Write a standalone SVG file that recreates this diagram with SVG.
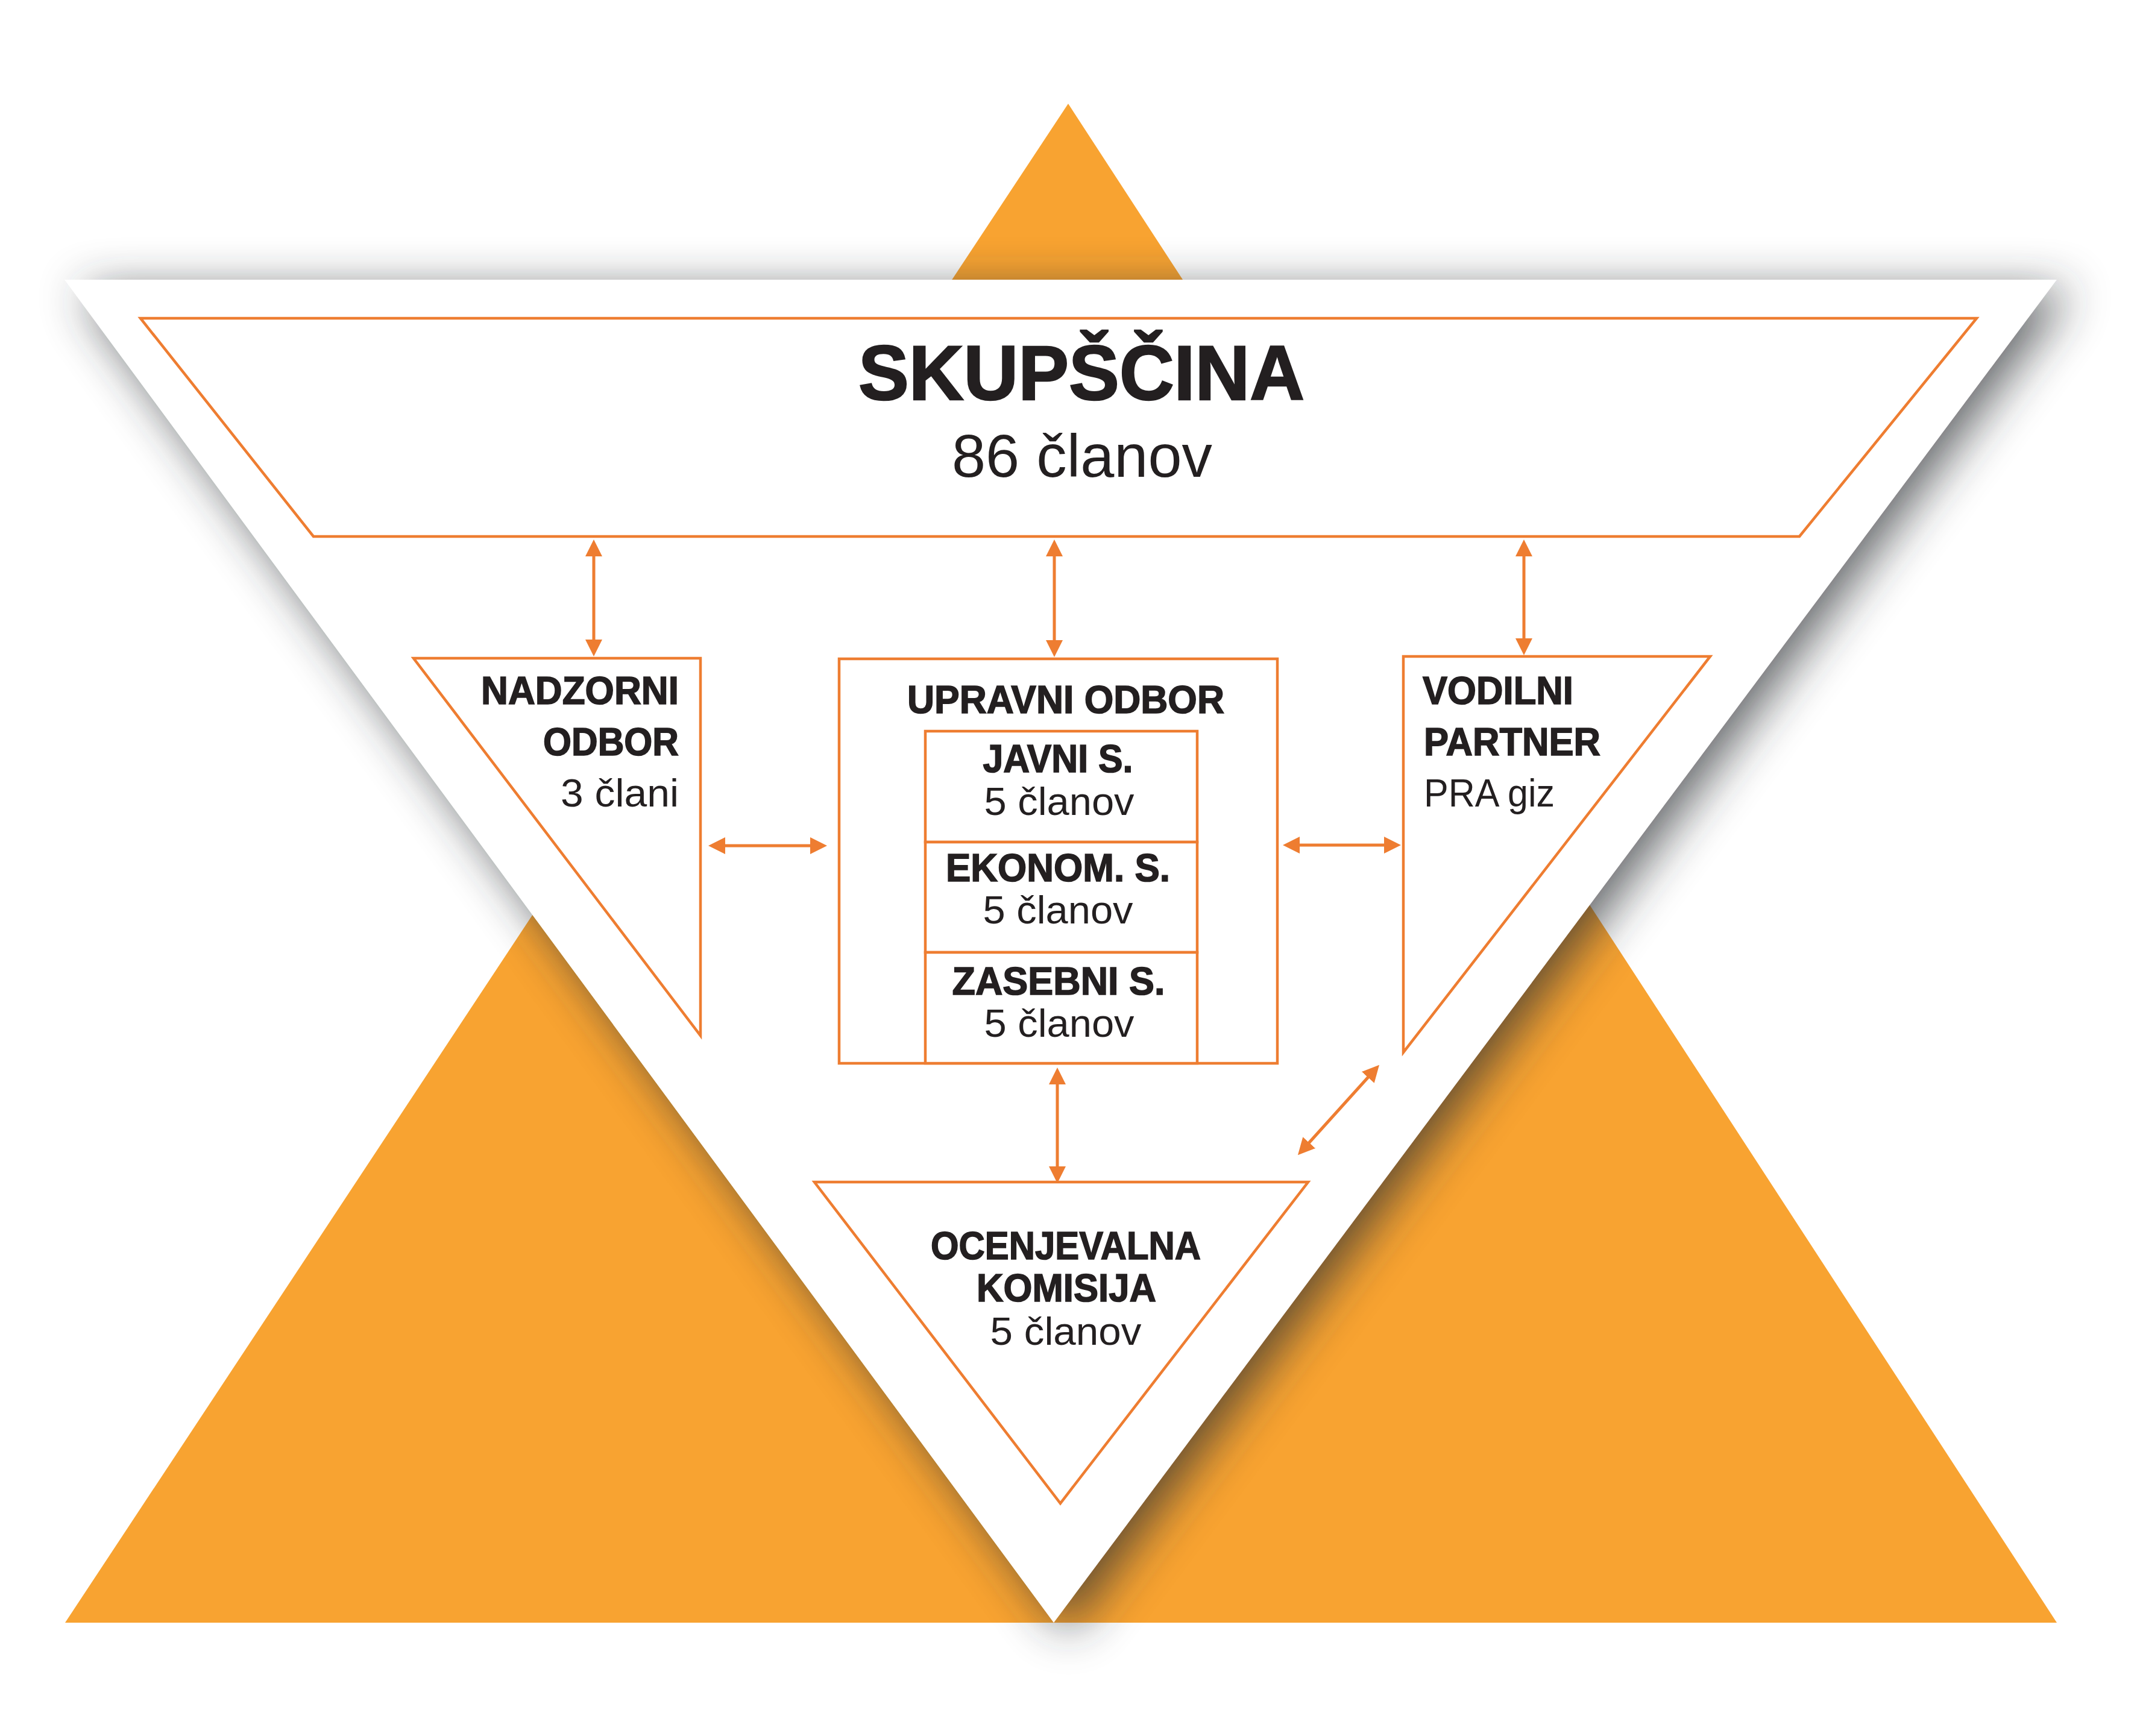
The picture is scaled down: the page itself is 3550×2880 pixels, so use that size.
<svg xmlns="http://www.w3.org/2000/svg" width="3550" height="2880" viewBox="0 0 3550 2880">
<defs>
<style>
.ln{fill:#ffffff;stroke:#ee7d31;stroke-width:4.5;stroke-linejoin:miter}
.ar{fill:none;stroke:#ee7d31;stroke-width:5;marker-start:url(#ah);marker-end:url(#ah)}
.b{font-family:"Liberation Sans",Arial,sans-serif;font-weight:bold;fill:#231f20;stroke:#231f20;stroke-width:1.6}
.r{font-family:"Liberation Sans",Arial,sans-serif;font-weight:normal;fill:#231f20}
.c{text-anchor:middle}
.e{text-anchor:end}
</style>
<filter id="sh" x="-10%" y="-10%" width="120%" height="120%">
<feGaussianBlur stdDeviation="40"/>
</filter>
<marker id="ah" viewBox="0 0 28 28" refX="10" refY="14" markerWidth="28" markerHeight="28" markerUnits="userSpaceOnUse" orient="auto-start-reverse">
<path d="M0,0 L28,14 L0,28 z" fill="#ee7d31"/>
</marker>
</defs>
<rect x="0" y="0" width="3550" height="2880" fill="#ffffff"/>
<g id="background">
<polygon points="1772,172 3412,2692 108,2692" fill="#f8a331"/>
<polygon points="107,464 3412,464 1748,2692" fill="#2b2e33" opacity="0.72" filter="url(#sh)" transform="translate(24,18)"/>
<polygon points="107,464 3412,464 1748,2692" fill="#ffffff"/>
</g>
<g id="skupscina">
<polygon class="ln" points="233,528 3279,528 2985,890 520,890"/>
<text class="b c" x="1794" y="663" font-size="128" textLength="740" lengthAdjust="spacingAndGlyphs" style="stroke-width:2.5">SKUPŠČINA</text>
<text class="r c" x="1795" y="791" font-size="100" textLength="432" lengthAdjust="spacingAndGlyphs">86 članov</text>
</g>
<g id="nadzorni-odbor">
<polygon class="ln" points="686,1092 1162,1092 1162,1718"/>
<text class="b e" x="1126" y="1168" font-size="64" textLength="328" lengthAdjust="spacingAndGlyphs">NADZORNI</text>
<text class="b e" x="1126" y="1253" font-size="64" textLength="225" lengthAdjust="spacingAndGlyphs">ODBOR</text>
<text class="r e" x="1126" y="1338" font-size="64" textLength="196" lengthAdjust="spacingAndGlyphs">3 člani</text>
</g>
<g id="upravni-odbor">
<rect class="ln" x="1392" y="1093" width="727" height="671"/>
<text class="b c" x="1768" y="1183" font-size="64" textLength="526" lengthAdjust="spacingAndGlyphs">UPRAVNI ODBOR</text>
</g>
<g id="javni-s">
<rect class="ln" x="1535" y="1213" width="451" height="184"/>
<text class="b c" x="1755" y="1281" font-size="64" textLength="249" lengthAdjust="spacingAndGlyphs">JAVNI S.</text>
<text class="r c" x="1757" y="1352" font-size="64" textLength="249" lengthAdjust="spacingAndGlyphs">5 članov</text>
</g>
<g id="ekonom-s">
<rect class="ln" x="1535" y="1397" width="451" height="183"/>
<text class="b c" x="1755" y="1462" font-size="64" textLength="372" lengthAdjust="spacingAndGlyphs">EKONOM. S.</text>
<text class="r c" x="1755" y="1532" font-size="64" textLength="249" lengthAdjust="spacingAndGlyphs">5 članov</text>
</g>
<g id="zasebni-s">
<rect class="ln" x="1535" y="1580" width="451" height="184"/>
<text class="b c" x="1756" y="1650" font-size="64" textLength="353" lengthAdjust="spacingAndGlyphs">ZASEBNI S.</text>
<text class="r c" x="1757" y="1720" font-size="64" textLength="249" lengthAdjust="spacingAndGlyphs">5 članov</text>
</g>
<g id="vodilni-partner">
<polygon class="ln" points="2328,1089 2837,1089 2328,1746"/>
<text class="b" x="2360" y="1168" font-size="64" textLength="250" lengthAdjust="spacingAndGlyphs">VODILNI</text>
<text class="b" x="2362" y="1253" font-size="64" textLength="293" lengthAdjust="spacingAndGlyphs">PARTNER</text>
<text class="r" x="2362" y="1338" font-size="64" textLength="217" lengthAdjust="spacingAndGlyphs">PRA giz</text>
</g>
<g id="ocenjevalna-komisija">
<polygon class="ln" points="1351,1961 2170,1961 1759,2494"/>
<text class="b c" x="1768" y="2089" font-size="64" textLength="448" lengthAdjust="spacingAndGlyphs">OCENJEVALNA</text>
<text class="b c" x="1769" y="2159" font-size="64" textLength="298" lengthAdjust="spacingAndGlyphs">KOMISIJA</text>
<text class="r c" x="1768" y="2231" font-size="64" textLength="251" lengthAdjust="spacingAndGlyphs">5 članov</text>
</g>
<g id="connectors">
<line class="ar" x1="985" y1="913" x2="985" y2="1071"/>
<line class="ar" x1="1749" y1="913" x2="1749" y2="1072"/>
<line class="ar" x1="2528" y1="913" x2="2528" y2="1069"/>
<line class="ar" x1="1193" y1="1403" x2="1354" y2="1403"/>
<line class="ar" x1="2146" y1="1402" x2="2306" y2="1402"/>
<line class="ar" x1="1754" y1="1789" x2="1754" y2="1945"/>
<line class="ar" x1="2165" y1="1903" x2="2276" y2="1780"/>
</g>
</svg>
